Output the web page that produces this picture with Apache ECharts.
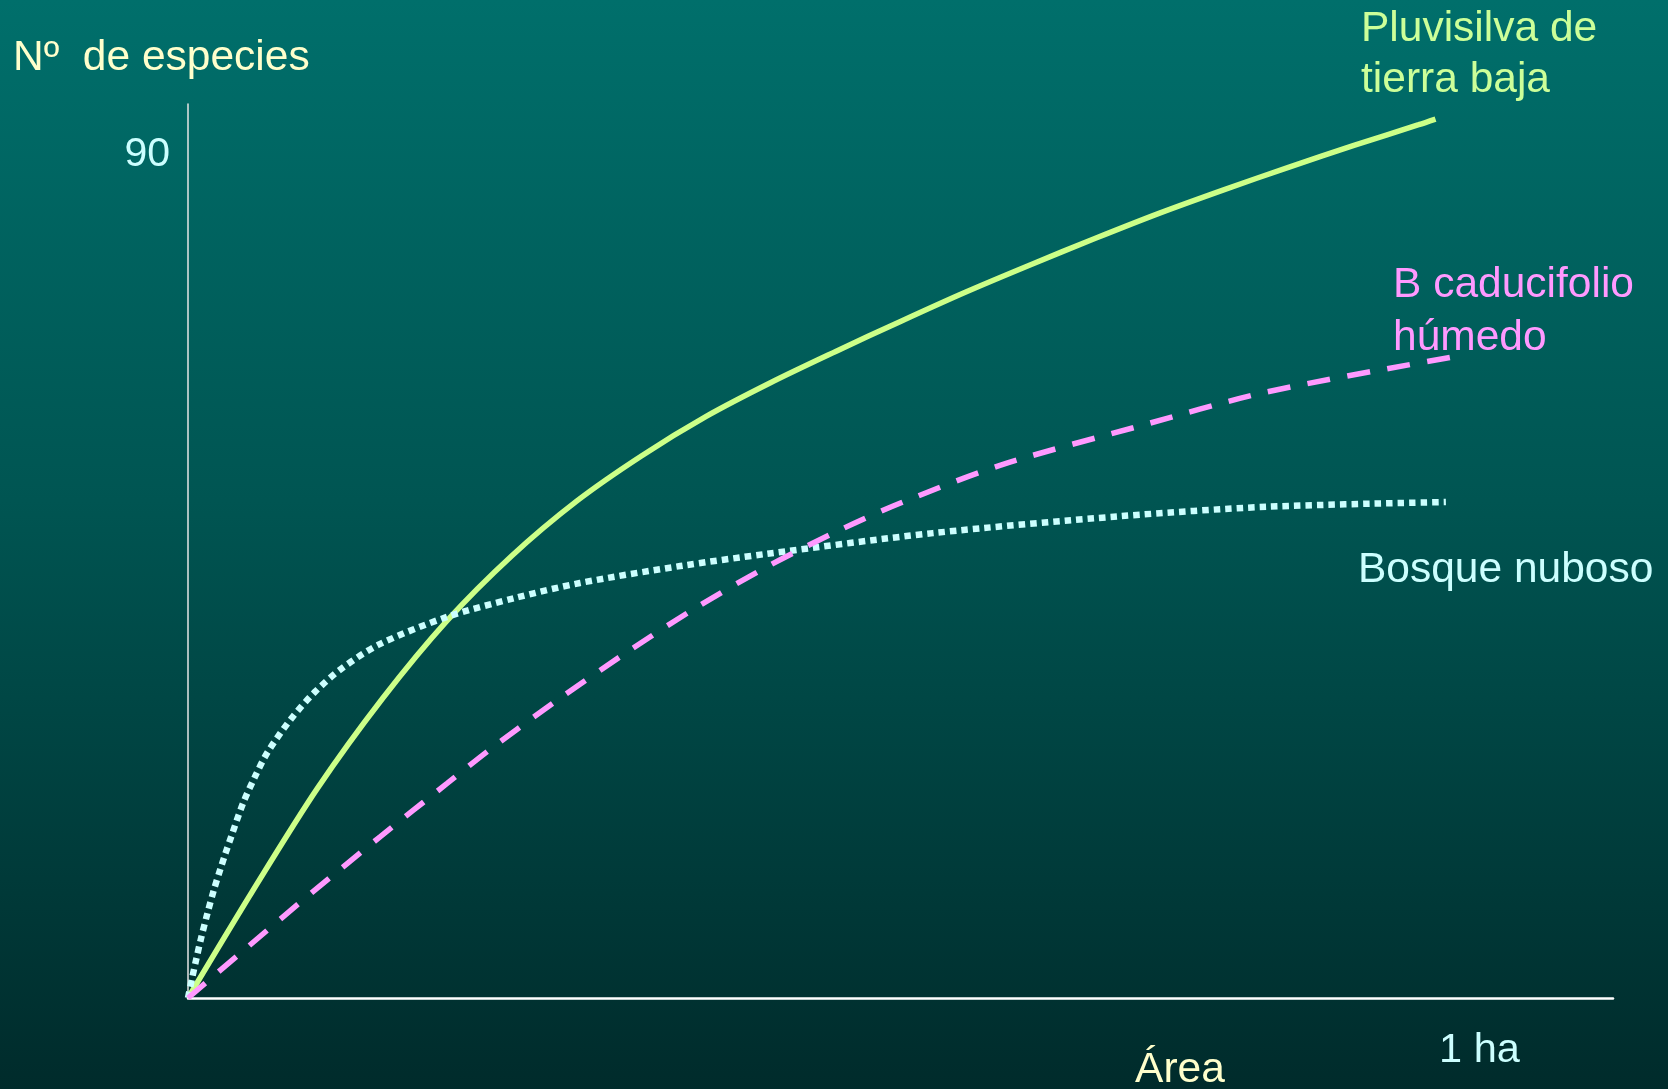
<!DOCTYPE html>
<html>
<head>
<meta charset="utf-8">
<title>Curvas especies-área</title>
<script src="https://cdn.jsdelivr.net/npm/echarts@6/dist/echarts.min.js"></script>
<style>
  html, body { margin: 0; padding: 0; width: 100%; height: 100%; overflow: hidden; }
  #chart { width: 1668px; height: 1089px; }
</style>
</head>
<body>
<div id="chart"></div>
<script>
// Species-area curves: area in hectares, number of species
const pluvisilva = [
  [0, 0], [0.05, 11.4], [0.10, 22.3], [0.15, 31.8], [0.20, 40.1], [0.25, 47.0],
  [0.30, 52.8], [0.35, 57.6], [0.40, 61.8], [0.45, 65.4], [0.50, 68.7],
  [0.55, 71.9], [0.60, 75.0], [0.65, 77.9], [0.70, 80.7], [0.75, 83.4],
  [0.80, 85.9], [0.85, 88.3], [0.90, 90.6], [0.95, 92.8], [0.963, 93.4]
];
const caducifolio = [
  [0, 0], [0.045, 5.3], [0.0965, 11.3], [0.148, 17.1], [0.20, 22.8], [0.233, 26.4],
  [0.2845, 31.6], [0.3372, 36.6], [0.3913, 41.4], [0.4479, 45.9], [0.5058, 49.9],
  [0.55, 52.6], [0.6268, 56.6], [0.7298, 60.6], [0.8328, 64.4], [0.9757, 68.1]
];
const nuboso = [
  [0, 0], [0.003, 2.0], [0.0065, 4.2], [0.01, 6.3], [0.015, 9.0], [0.02, 11.5],
  [0.025, 13.7], [0.029, 15.4], [0.0335, 17.2], [0.0425, 20.7], [0.052, 23.6],
  [0.0618, 26.2], [0.0798, 29.7], [0.0978, 32.5], [0.1185, 35.0], [0.148, 37.6],
  [0.20, 40.5], [0.2523, 42.5], [0.3025, 44.1], [0.38, 45.9], [0.447, 47.2],
  [0.575, 49.4], [0.72, 51.2], [0.833, 52.2], [0.971, 52.7]
];
const yTickLabel = 90;
const xTickLabel = 1;

const FONT = "'Liberation Sans', Arial, Helvetica, sans-serif";
const chart = echarts.init(document.getElementById('chart'));

function label(text, x, y, color, align) {
  return {
    type: 'text', x: x, y: y, silent: true,
    style: {
      text: text, fill: color,
      font: '42.5px ' + FONT,
      textAlign: align || 'left', align: align || 'left',
      textVerticalAlign: 'middle', verticalAlign: 'middle'
    }
  };
}

chart.setOption({
  animation: false,
  backgroundColor: {
    type: 'linear', x: 0, y: 0, x2: 0, y2: 1,
    colorStops: [
      { offset: 0, color: '#006f6b' },
      { offset: 0.46, color: '#005552' },
      { offset: 1, color: '#002b2b' }
    ]
  },
  grid: { left: 188, right: 55, top: 104, bottom: 91, containLabel: false },
  xAxis: {
    type: 'value', min: 0, max: 1.1, interval: 1,
    axisLine: { show: true, lineStyle: { color: '#ffffff', width: 2.5 } },
    axisTick: { show: false },
    splitLine: { show: false },
    axisLabel: {
      margin: 32, color: '#ccffff', fontSize: 41.5, fontFamily: FONT,
      showMinLabel: false, showMaxLabel: false,
      padding: [0, 8, 0, 0],
      formatter: v => (Math.abs(v - xTickLabel) < 1e-9 ? xTickLabel + ' ha' : '')
    }
  },
  yAxis: {
    type: 'value', min: 0, max: 95, interval: 90,
    axisLine: { show: true, lineStyle: { color: '#e6e6e6', width: 1.5 } },
    axisTick: { show: false },
    splitLine: { show: false },
    axisLabel: {
      margin: 18, color: '#ccffff', fontSize: 41, fontFamily: FONT,
      formatter: v => (v === yTickLabel ? '{v|' + yTickLabel + '}' : ''),
      rich: {
        v: { color: '#ccffff', fontSize: 41, fontFamily: FONT, padding: [8, 0, 0, 0] }
      }
    }
  },
  series: [
    {
      name: 'Pluvisilva de tierra baja', type: 'line', data: pluvisilva,
      smooth: 0.3, showSymbol: false, z: 2,
      lineStyle: { color: '#ccff88', width: 5.5 }
    },
    {
      name: 'Bosque nuboso', type: 'line', data: nuboso,
      smooth: 0.3, showSymbol: false, z: 3,
      lineStyle: { color: '#ccffff', width: 6.5, type: [6.5, 5], cap: 'butt' }
    },
    {
      name: 'B caducifolio húmedo', type: 'line', data: caducifolio,
      smooth: 0.3, showSymbol: false, z: 4,
      lineStyle: { color: '#ff99ff', width: 5.5, type: [23, 17.5], cap: 'butt' }
    }
  ],
  graphic: [
    label('Nº  de especies', 13, 58, '#ffffcc'),
    label('Pluvisilva de', 1361, 29, '#ccff99'),
    label('tierra baja', 1361, 80, '#ccff99'),
    label('B caducifolio', 1393, 285, '#ff99ff'),
    label('húmedo', 1393, 338, '#ff99ff'),
    label('Bosque nuboso', 1358, 570, '#ccffff'),
    label('Área', 1180, 1070, '#ffffcc', 'center')
  ]
});
</script>
</body>
</html>
